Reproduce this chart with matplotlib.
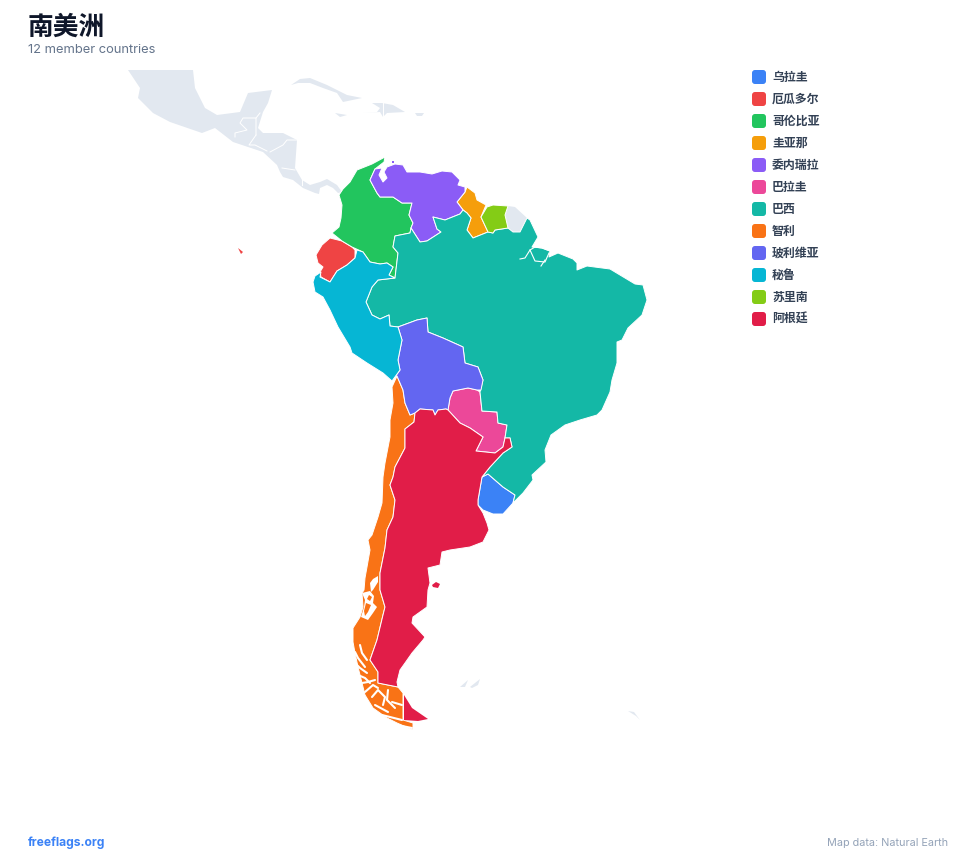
import matplotlib
matplotlib.use('Agg')
import matplotlib.pyplot as plt
from matplotlib.patches import FancyBboxPatch

plt.rcParams['font.family'] = ['Inter', 'Noto Sans CJK SC', 'DejaVu Sans']

title = '南美洲'
subtitle = '12 member countries'

# legend, same order as the source
names = ['乌拉圭', '厄瓜多尔', '哥伦比亚', '圭亚那', '委内瑞拉', '巴拉圭', '巴西', '智利', '玻利维亚', '秘鲁', '苏里南', '阿根廷']
colors = ['#3b82f6', '#ef4444', '#22c55e', '#f59e0b', '#8b5cf6', '#ec4899', '#14b8a6', '#f97316', '#6366f1', '#06b6d4', '#84cc16', '#e11d48']

# country outlines (x, y in picture pixels)
uruguay = [(482,477),(488,474),(503,487),(515,495),(513,503),(503,514),(493,514),(483,510),(478,505),(478,500)]
ecuador = [(330,238),(342,241),(352,247),(355,250),(355,258),(347,265),(337,271),(330,282),(321,277),(320,272),(323,267),(318,263),(316,255),(322,245)]
colombia = [(385,157),(372,164),(357,170),(350,182),(343,189),(339,195),(342,205),(341,218),(339,227),(332,233),(342,241),(352,247),(363,252),(370,262),(380,264),(387,263),(393,267),(389,275),(395,278),(398,253),(393,247),(395,236),(410,233),(411,228),(413,223),(409,215),(412,203),(402,203),(393,197),(380,197),(377,193),(370,180),(375,169),(384,162)]
guyana = [(467,187),(475,193),(477,200),(486,205),(481,217),(488,232),(473,238),(467,230),(471,218),(467,213),(463,210),(457,202),(465,192)]
venezuela = [(375,169),(370,180),(377,193),(380,197),(393,197),(402,203),(412,203),(409,215),(413,223),(411,228),(420,242),(427,241),(441,232),(437,229),(433,217),(445,220),(460,214),(463,210),(457,202),(465,192),(465,187),(458,185),(460,180),(452,172),(442,171),(432,174),(420,172),(407,172),(403,165),(395,164),(387,167),(384,172),(387,178),(383,182),(379,175),(382,168)]
paraguay = [(453,391),(468,388),(477,390),(480,392),(482,411),(497,412),(498,423),(507,425),(505,438),(503,447),(495,453),(476,451),(483,437),(470,428),(460,423),(448,410),(450,398)]
brazil = [(527,218),(530,220),(538,237),(532,247),(542,248),(550,251),(549,257),(558,253),(573,259),(577,263),(577,270),(587,266),(610,269),(625,278),(635,284),(643,285),(647,300),(642,315),(628,328),(622,340),(617,342),(617,363),(612,380),(610,392),(602,410),(597,415),(580,420),(565,425),(551,435),(545,450),(546,462),(532,475),(533,480),(523,493),(513,503),(515,495),(503,487),(488,474),(482,477),(490,467),(503,453),(512,447),(510,438),(505,438),(507,425),(498,423),(497,412),(482,411),(480,392),(483,380),(478,367),(465,363),(463,347),(443,338),(428,332),(427,318),(417,320),(398,327),(390,326),(389,315),(380,319),(372,315),(366,302),(372,287),(378,280),(395,278),(398,253),(393,247),(395,236),(410,233),(411,228),(420,242),(427,241),(441,232),(437,229),(433,217),(445,220),(460,214),(463,210),(467,213),(471,218),(467,230),(473,238),(488,232),(493,233),(495,230),(508,228),(513,232),(520,232)]
chile = [(397,376),(403,390),(405,403),(410,415),(415,413),(414,422),(405,429),(405,448),(395,467),(393,477),(390,485),(395,500),(393,517),(387,530),(385,548),(380,573),(380,590),(385,607),(383,615),(377,640),(370,660),(378,672),(378,683),(398,687),(403,693),(403,720),(413,723),(413,730),(397,723),(387,718),(373,708),(365,695),(362,683),(358,667),(355,653),(353,642),(353,628),(360,617),(363,607),(362,593),(364,590),(365,578),(367,567),(370,550),(368,540),(372,535),(378,517),(382,503),(383,477),(385,463),(390,437),(390,420),(393,403),(392,387)]
bolivia = [(398,327),(417,320),(427,318),(428,332),(443,338),(463,347),(465,363),(478,367),(483,380),(481,390),(477,390),(468,388),(453,391),(450,398),(448,410),(446,409),(438,410),(435,415),(433,410),(420,409),(415,413),(410,415),(405,403),(403,390),(397,376),(392,381),(400,370),(398,360),(402,340)]
peru = [(357,250),(355,258),(347,265),(337,271),(330,282),(320,277),(321,272),(315,276),(313,282),(315,292),(323,297),(330,310),(338,327),(350,347),(352,353),(367,363),(383,373),(392,381),(400,370),(398,360),(402,340),(398,327),(390,326),(389,315),(380,319),(372,315),(366,302),(372,287),(378,280),(395,278),(389,275),(393,267),(387,263),(380,264),(370,262),(363,252)]
suriname = [(487,207),(493,205),(508,206),(505,215),(508,228),(495,230),(493,233),(488,232),(481,217)]
argentina = [(415,413),(420,409),(433,410),(435,415),(438,410),(446,409),(448,410),(460,423),(470,428),(483,437),(476,451),(495,453),(503,447),(505,438),(510,438),(512,447),(503,453),(490,467),(482,477),(478,500),(478,505),(483,513),(487,523),(489,530),(483,542),(470,547),(450,550),(442,552),(440,565),(428,568),(430,583),(428,590),(427,607),(413,617),(412,623),(425,637),(423,640),(412,653),(405,663),(400,670),(397,682),(398,687),(378,683),(378,672),(370,660),(377,640),(383,615),(385,607),(380,590),(380,573),(385,548),(387,530),(393,517),(395,500),(390,485),(393,477),(395,467),(405,448),(405,429),(414,422)]
countries = [uruguay, ecuador, colombia, guyana, venezuela, paraguay, brazil, chile, bolivia, peru, suriname, argentina]

# extra pieces of member countries: (legend index, outline)
tierra_fuego = [(404,695),(412,708),(428,719),(418,721),(404,720)]
galapagos = [(238,248),(243,252),(241,254)]
aruba = [(392,161),(394,161),(394,163),(392,163)]
valdes = [(432,585),(436,582),(440,584),(438,588),(433,587)]
extras = [(11, tierra_fuego), (1, galapagos), (4, aruba), (11, valdes)]

# grey neighbours
central_america = [(128,70),(193,70),(195,88),(205,108),(217,115),(240,112),(248,93),(272,90),(268,103),(263,112),(258,128),(263,133),(283,133),(297,140),(295,168),(302,180),(310,185),(320,182),(327,179),(337,185),(342,192),(338,193),(333,188),(327,185),(320,188),(319,194),(315,193),(303,188),(293,180),(283,177),(280,172),(277,165),(263,152),(233,142),(215,128),(202,133),(170,122),(153,113),(138,98),(140,88)]
cuba = [(291,85),(300,79),(310,78),(327,85),(347,95),(362,98),(343,102),(337,93),(323,88),(310,83),(298,83)]
hispaniola = [(372,103),(382,103),(393,105),(405,112),(387,113),(383,117),(380,112),(363,113),(377,112),(380,108)]
jamaica = [(335,113),(347,115),(340,117)]
puerto_rico = [(415,113),(424,113),(422,116),(417,116)]
french_guiana = [(508,206),(515,207),(527,218),(520,232),(513,232),(508,228),(505,215)]
falkland_w = [(460,687),(468,680),(465,687)]
falkland_e = [(470,687),(480,679),(478,685),(472,688)]
south_georgia = [(628,711),(634,712),(640,720),(636,716)]
neighbours = [central_america, cuba, hispaniola, jamaica, puerto_rico, french_guiana, falkland_w, falkland_e, south_georgia]

# white lines: borders in the grey part, river mouths, southern fjords
grey_borders = [
    [(235,137),(235,133),(247,130),(240,123),(243,118),(256,118),(256,135)],
    [(256,118),(260,113)],
    [(256,135),(249,145),(255,145),(267,151)],
    [(270,152),(283,145),(287,140),(297,140)],
    [(282,168),(295,170)],
    [(302,180),(302,185)],
    [(383,103),(383,117)],
]
amazon = [
    [(520,259),(525,258),(530,250),(535,247),(542,248),(550,251)],
    [(530,250),(535,261),(545,262),(549,253)],
    [(541,266),(545,260)],
]
fjord_cuts = [
    [(378,576),(373,579),(370,583),(371,592),(373,590),(378,582)],
    [(362,593),(370,591),(374,596),(373,603),(377,607),(373,613),(368,620),(361,617),(364,607),(365,600)],
]
chile_islands = [
    [(366,603),(371,605),(368,612),(365,616),(364,611)],
    [(369,595),(372,597),(370,601),(367,599)],
]
fjords = [
    [(360,645),(362,653),(367,660)],
    [(355,652),(358,658),(365,667)],
    [(355,663),(360,668),(367,673)],
    [(358,675),(365,678),(370,683)],
    [(362,683),(368,682),(375,680)],
    [(365,692),(373,685),(378,688)],
    [(372,697),(378,690),(385,697),(383,705)],
    [(388,690),(387,700),(395,708)],
    [(375,705),(388,712)],
    [(392,702),(402,705)],
    [(382,715),(402,720)],
    [(397,725),(412,728)],
]

fig = plt.figure(figsize=(9.76, 8.6), dpi=100)
ax = fig.add_axes([0, 0, 1, 1])
ax.set_xlim(0, 976)
ax.set_ylim(860, 0)
ax.axis('off')

for shape in neighbours:
    ax.fill(*zip(*shape), color='#e2e8f0', lw=0)
for line in grey_borders:
    ax.plot(*zip(*line), color='white', lw=0.7)

for shape, c in zip(countries, colors):
    ax.fill(*zip(*shape), facecolor=c, edgecolor='white', lw=0.7, joinstyle='round')
for i, shape in extras:
    ax.fill(*zip(*shape), facecolor=colors[i], edgecolor='none')

for line in amazon:
    ax.plot(*zip(*line), color='white', lw=0.8)
for shape in fjord_cuts:
    ax.fill(*zip(*shape), color='white', lw=0)
for shape in chile_islands:
    ax.fill(*zip(*shape), color=colors[7], lw=0)
for line in fjords:
    ax.plot(*zip(*line), color='white', lw=1.5, solid_capstyle='round')

# title block
ax.text(28, 27, title, fontsize=18.5, fontweight='bold', color='#0f172a', va='center', family=['Noto Sans CJK SC', 'DejaVu Sans'])
ax.text(28, 50, subtitle, fontsize=9.3, color='#64748b', va='center')

# legend
for i, (name, c) in enumerate(zip(names, colors)):
    y = 77 + i * 22
    ax.add_patch(FancyBboxPatch((754, y - 5), 10, 10, boxstyle='round,pad=2,rounding_size=3', facecolor=c, edgecolor='none'))
    ax.text(772, y + 0.5, name, fontsize=8.6, fontweight='bold', color='#334155', va='center', family=['Noto Sans CJK SC', 'DejaVu Sans'])

# footer
ax.text(28, 843, 'freeflags.org', fontsize=8.7, fontweight='bold', color='#3b82f6', va='center')
ax.text(948, 843, 'Map data: Natural Earth', fontsize=7.8, color='#94a3b8', va='center', ha='right')

fig.savefig('out.png', dpi=100, facecolor='white')
